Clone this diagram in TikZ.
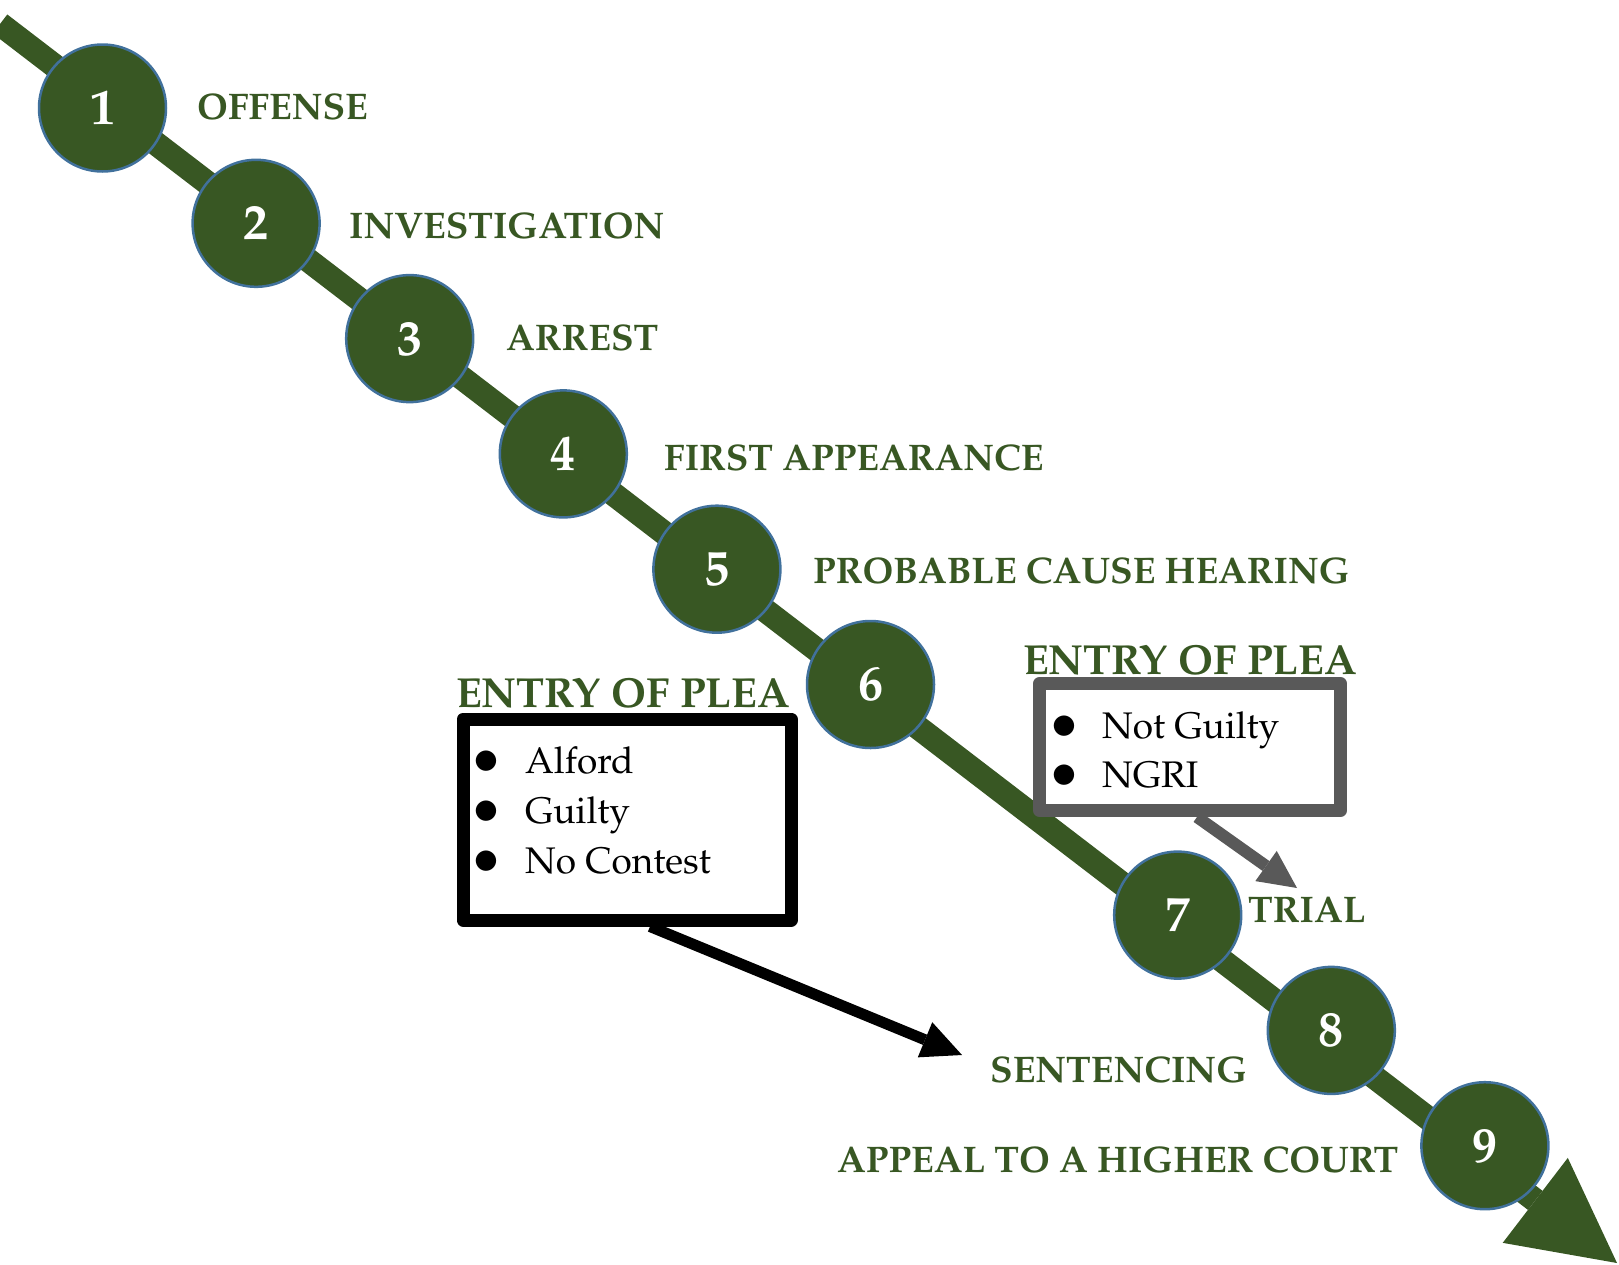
\documentclass[tikz,border=0pt]{standalone}
\usepackage[T1]{fontenc}
\usepackage{mathpazo}
\usetikzlibrary{arrows.meta}
\definecolor{stepgreen}{HTML}{385723}
\definecolor{ringblue}{HTML}{41719C}
\definecolor{boxgray}{HTML}{595959}
\newcommand{\bigbullet}{\hspace*{-9pt}\smash{\raisebox{-8.5pt}{\scalebox{1.6}{\textbullet}}}}
\tikzset{
 stepcircle/.style={circle, fill=stepgreen, draw=ringblue, line width=2.5pt, minimum size=127pt, inner sep=0pt, text=white, font=\fontsize{50}{56}\selectfont\bfseries},
 steplabel/.style={anchor=base west, inner sep=0pt, text=stepgreen, font=\fontsize{37}{44}\selectfont\bfseries},
 pleatitle/.style={anchor=base west, inner sep=0pt, text=stepgreen, font=\fontsize{42}{50}\selectfont\bfseries},
 pleabox/.style={draw, line width=13pt, line join=round, fill=white, inner sep=0pt},
 pleaitem/.style={anchor=base west, inner sep=0pt, font=\fontsize{37}{44}\selectfont},
 mainline/.style={draw=stepgreen, line width=24pt, -{Triangle[length=103pt,width=107pt,line width=0pt]}},
 pleaarrow/.style={line width=#1, line cap=butt},
}
\begin{document}
\begin{tikzpicture}[x=1pt,y=-1pt]
\useasboundingbox (0,0) rectangle (1619,1264);
% main timeline
\coordinate (start) at (0,24);
\coordinate (end) at (1617,1263);
\draw[mainline] (start) -- (end);
% steps
\foreach \n/\k in {1/0,2/1,3/2,4/3,5/4,6/5,7/7,8/8,9/9}
  \node[stepcircle] (c\n) at ({102.5+153.6*\k},{108+115.3*\k}) {\n};
% labels
\node[steplabel] (l1) at (197,119) {OFFENSE};
\node[steplabel] (l2) at (349,238) {INVESTIGATION};
\node[steplabel] (l3) at (506,350) {ARREST};
\node[steplabel] (l4) at (664,470) {FIRST APPEARANCE};
\node[steplabel] (l5) at (813,583) {PROBABLE CAUSE HEARING};
\node[steplabel] (l7) at (1248,922) {TRIAL};
\node[steplabel] (l8) at (990,1082) {SENTENCING};
\node[steplabel] (l9) at (837,1172) {APPEAL TO A HIGHER COURT};
% plea boxes
\node[pleabox, draw=black, minimum width=328pt, minimum height=201pt] (leftbox) at (627,819.5) {};
\node[pleabox, draw=boxgray, minimum width=301pt, minimum height=127pt] (rightbox) at (1190,747) {};
\node[pleatitle] (lt) at (456,707) {ENTRY OF PLEA};
\node[pleatitle] (rt) at (1023,674) {ENTRY OF PLEA};
\node[pleaitem] (a1) at (477,773) {\makebox[48pt][l]{\bigbullet}Alford};
\node[pleaitem] (a2) at (477,823) {\makebox[48pt][l]{\bigbullet}Guilty};
\node[pleaitem] (a3) at (477,873) {\makebox[48pt][l]{\bigbullet}No Contest};
\node[pleaitem] (b1) at (1055,738) {\makebox[47pt][l]{\bigbullet}Not Guilty};
\node[pleaitem] (b2) at (1055,787) {\makebox[47pt][l]{\bigbullet}NGRI};
% arrows from boxes
\coordinate (sentarrow) at (962,1055);
\coordinate (trialarrow) at (1297,888);
\draw[pleaarrow=11pt, black, -{Triangle[length=40pt,width=38pt,line width=0pt]}] ([xshift=23pt]leftbox.south) -- (sentarrow);
\draw[pleaarrow=12pt, boxgray, -{Triangle[length=38pt,width=37pt,line width=0pt]}] ([xshift=7pt]rightbox.south) -- (trialarrow);
\end{tikzpicture}
\end{document}
